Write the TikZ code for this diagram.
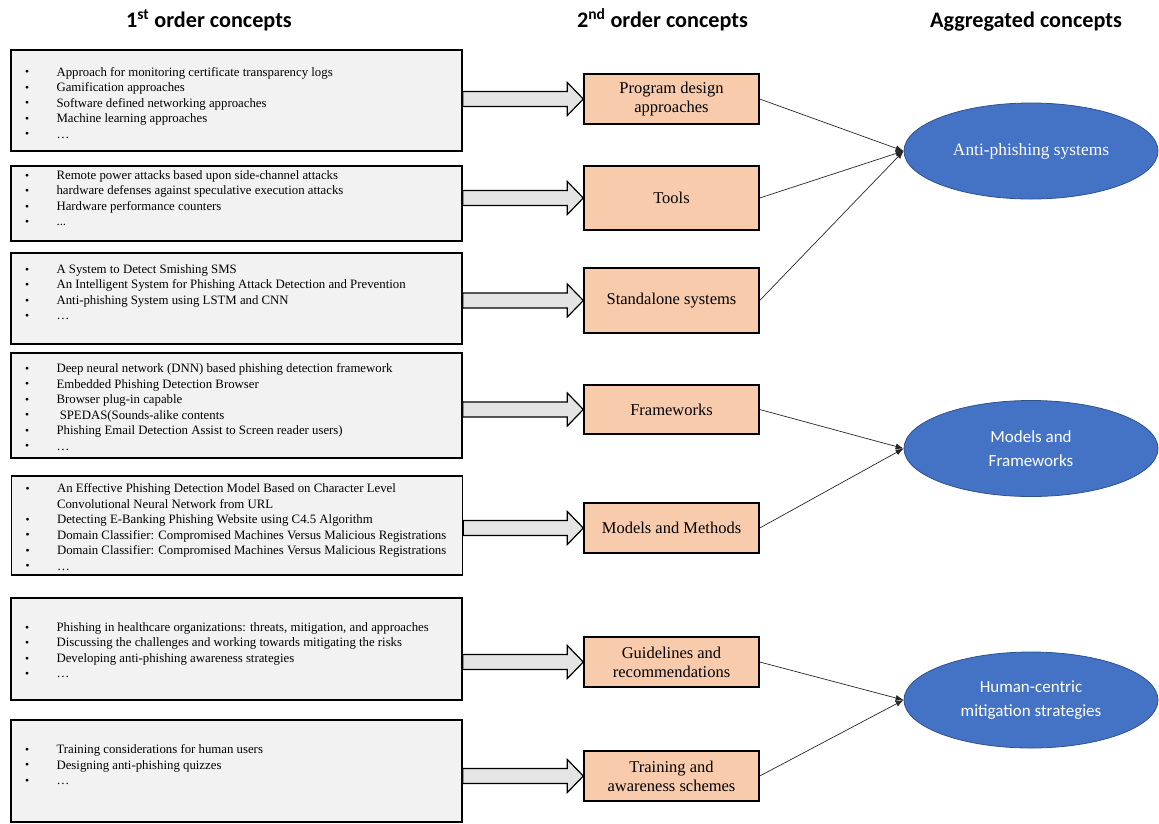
\documentclass[tikz,border=0pt]{standalone}
\usepackage{fontspec}
\setmainfont{Liberation Serif}
\newfontfamily\calibri{Carlito}
\usepackage{tikz}
\usetikzlibrary{positioning,calc,shapes.geometric,arrows.meta}
\definecolor{boxgray}{HTML}{F2F2F2}
\definecolor{arrowgray}{HTML}{E4E4E4}
\definecolor{peach}{HTML}{F8CBAD}
\definecolor{officeblue}{HTML}{4472C4}
\definecolor{blueedge}{HTML}{2F528F}
\newcommand{\bl}{\makebox[33pt][l]{\hspace{1.5pt}\raisebox{.3pt}{\scalebox{.9}{\textbullet}}}}
\newcommand{\nobl}{\makebox[33pt][l]{}}

\begin{document}
\begin{tikzpicture}[x=1pt,y=-1pt,>={Latex[length=8pt,width=6pt]},
	firstbox/.style = {draw,line width=1.3pt,fill=boxgray,minimum width=451pt,inner sep=0pt},
	items/.style = {inner sep=0pt,align=left,font=\fontsize{12.8}{15.5}\selectfont},
	secondbox/.style = {draw,line width=1.4pt,fill=peach,minimum width=175pt,inner sep=0pt,align=center,font=\fontsize{16.5}{19}\selectfont},
	aggr/.style = {ellipse,draw=blueedge,line width=.8pt,fill=officeblue,text=white,minimum width=254pt,minimum height=96pt,inner sep=0pt,align=center},
	heading/.style = {font=\calibri\bfseries\fontsize{22.2}{26}\selectfont,anchor=base},
	fatarrow/.style = {draw,line width=1.2pt,fill=arrowgray,line join=miter},
	link/.style = {draw=black!85,line width=.7pt}
	]
	\useasboundingbox (0,0) rectangle (1159,823);
	%HEADINGS
	\node[heading] (h1) at (209,27) {1\textsuperscript{st} order concepts};
	\node[heading] (h2) at (662.5,27) {2\textsuperscript{nd} order concepts};
	\node[heading] (h3) at (1026,27) {Aggregated concepts};
	%FIRST ORDER CONCEPTS
	\node[firstbox,minimum height=101pt] (c1) at (236.5,100.5) {};
	\node[items,below right=17.5pt and 13pt of c1.north west] (t1) {\bl Approach for monitoring certificate transparency logs\\
		\bl Gamification approaches\\ \bl Software defined networking approaches\\
		\bl Machine learning approaches\\ \bl …};
	\node[firstbox,minimum height=75pt] (c2) at (236.5,203.5) {};
	\node[items,below right=5pt and 13pt of c2.north west] (t2) {\bl Remote power attacks based upon side-channel attacks\\
		\bl hardware defenses against speculative execution attacks\\
		\bl Hardware performance counters\\ \bl ...};
	\node[firstbox,minimum height=91pt] (c3) at (236.5,298.5) {};
	\node[items,below right=12pt and 13pt of c3.north west] (t3) {\bl A System to Detect Smishing SMS\\
		\bl An Intelligent System for Phishing Attack Detection and Prevention\\
		\bl Anti-phishing System using LSTM and CNN\\ \bl …};
	\node[firstbox,minimum height=105pt] (c4) at (236.5,405.5) {};
	\node[items,below right=11pt and 13pt of c4.north west] (t4) {\bl Deep neural network (DNN) based phishing detection framework\\
		\bl Embedded Phishing Detection Browser\\ \bl Browser plug-in capable\\
		\bl\ SPEDAS(Sounds-alike contents\\ \bl Phishing Email Detection Assist to Screen reader users)\\ \bl …};
	\node[firstbox,minimum height=99pt] (c5) at (237,525.5) {};
	\node[items,below right=8pt and 13pt of c5.north west] (t5) {\bl An Effective Phishing Detection Model Based on Character Level\\
		\nobl Convolutional Neural Network from URL\\
		\bl Detecting E-Banking Phishing Website using C4.5 Algorithm\\
		\bl Domain Classifier: Compromised Machines Versus Malicious Registrations\\
		\bl Domain Classifier: Compromised Machines Versus Malicious Registrations\\ \bl …};
	\node[firstbox,minimum height=102pt] (c6) at (236.5,649) {};
	\node[items,below right=25pt and 13pt of c6.north west] (t6) {\bl Phishing in healthcare organizations: threats, mitigation, and approaches\\
		\bl Discussing the challenges and working towards mitigating the risks\\
		\bl Developing anti-phishing awareness strategies\\ \bl …};
	\node[firstbox,minimum height=102pt] (c7) at (236.5,771) {};
	\node[items,below right=25pt and 13pt of c7.north west] (t7) {\bl Training considerations for human users\\
		\bl Designing anti-phishing quizzes\\ \bl …};
	%SECOND ORDER CONCEPTS
	\node[secondbox,minimum height=50pt] (m1) at (671.5,99) {Program design\\approaches};
	\node[secondbox,minimum height=64pt] (m2) at (671.5,198) {Tools};
	\node[secondbox,minimum height=65pt] (m3) at (671.5,300.5) {Standalone systems};
	\node[secondbox,minimum height=49pt] (m4) at (671.5,409.5) {Frameworks};
	\node[secondbox,minimum height=50pt] (m5) at (671.5,528) {Models and Methods};
	\node[secondbox,minimum height=50pt] (m6) at (671.5,662) {Guidelines and\\recommendations};
	\node[secondbox,minimum height=50pt] (m7) at (671.5,776) {Training and\\awareness schemes};
	%AGGREGATED CONCEPTS
	\node[aggr,font=\fontsize{17.4}{21}\selectfont] (e1) at (1031,151) {Anti-phishing systems};
	\node[aggr,font=\calibri\fontsize{17}{24}\selectfont] (e2) at (1031,448.5) {Models and\\Frameworks};
	\node[aggr,font=\calibri\fontsize{17}{24}\selectfont] (e3) at (1031,700) {Human-centric\\mitigation strategies};
	%Block arrows
	\foreach \c/\m in {c1/m1,c2/m2,c3/m3,c4/m4,c5/m5,c6/m6,c7/m7}
		\draw[fatarrow] let \p1=(\c.east), \p2=(\m.west) in
			(\x1,\y2+7.5pt) -- (\x2-16pt,\y2+7.5pt) -- (\x2-16pt,\y2+16.5pt) -- (\x2,\y2)
			-- (\x2-16pt,\y2-16.5pt) -- (\x2-16pt,\y2-7.5pt) -- (\x1,\y2-7.5pt) -- cycle;
	%Links
	\foreach \m/\e in {m1/e1,m2/e1,m3/e1,m4/e2,m5/e2,m6/e3,m7/e3}
		\draw[link,->] (\m.east) -- (\e.west);
\end{tikzpicture}
\end{document}
